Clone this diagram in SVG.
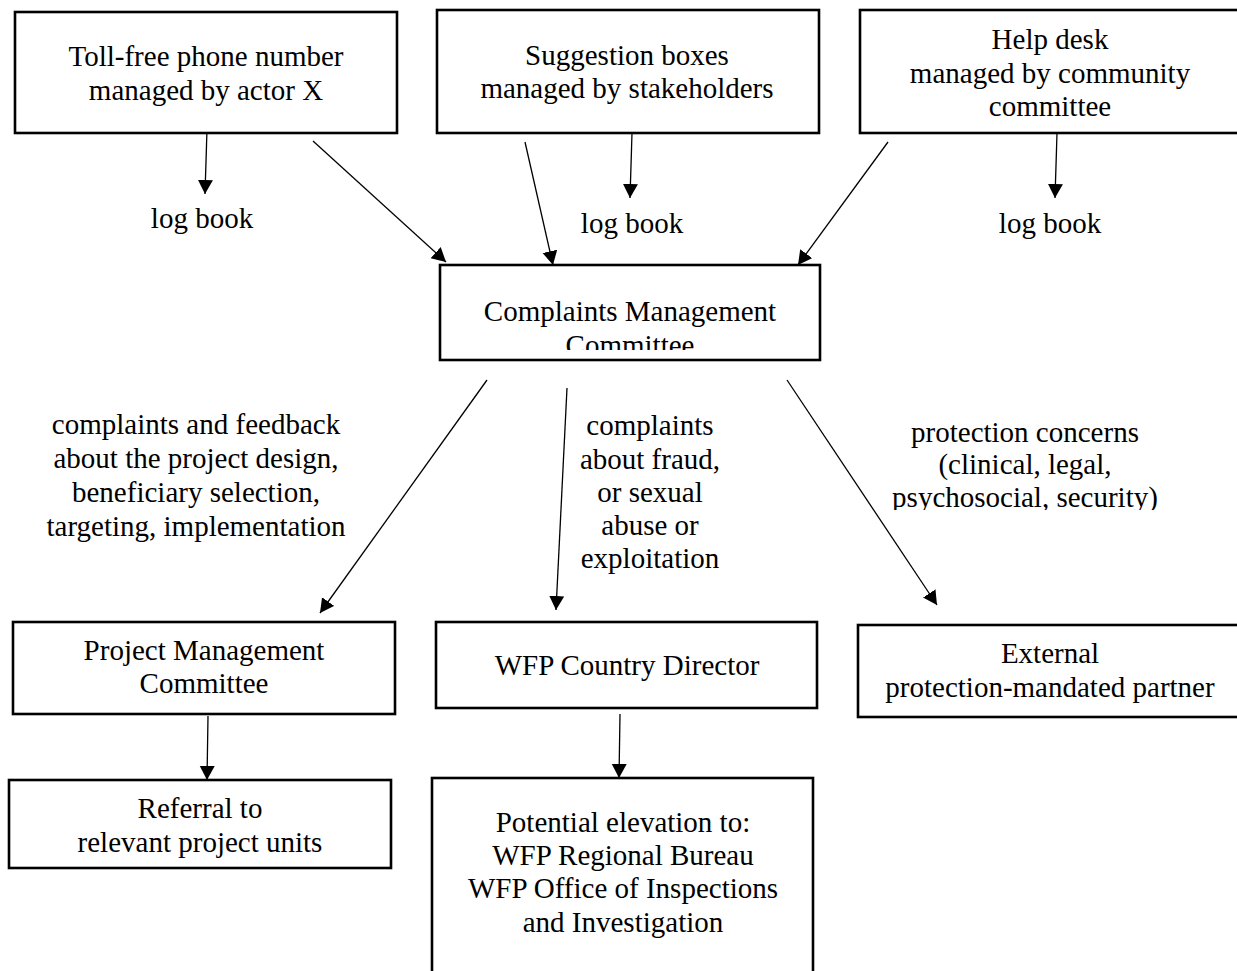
<svg xmlns="http://www.w3.org/2000/svg" width="1237" height="971" viewBox="0 0 1237 971">
<style>
.box{fill:#fff;stroke:#000;stroke-width:2.6}
.t{font-family:"Liberation Serif","Times New Roman",serif;font-size:29px;fill:#000;text-anchor:middle}
.c{stroke:#000;stroke-width:1.3;fill:none;marker-end:url(#ah)}
</style>
<defs>
<marker id="ah" markerUnits="userSpaceOnUse" markerWidth="16" markerHeight="16" refX="14" refY="7.5" orient="auto"><path d="M0,0 L14,7.5 L0,15 z" fill="#000"/></marker>
<clipPath id="clipCMC"><rect x="440" y="265" width="380" height="85"/></clipPath>
<clipPath id="clipProt"><rect x="850" y="380" width="387" height="130"/></clipPath>
</defs>
<rect width="1237" height="971" fill="#fff"/>
<g id="connectors">
<line class="c" x1="207" y1="129" x2="205" y2="194"/>
<line class="c" x1="313" y1="141" x2="446" y2="262"/>
<line class="c" x1="632" y1="133" x2="630" y2="198"/>
<line class="c" x1="525" y1="142" x2="553" y2="265"/>
<line class="c" x1="888" y1="142" x2="798" y2="265"/>
<line class="c" x1="1057" y1="133" x2="1055" y2="198"/>
<line class="c" x1="487" y1="380" x2="320" y2="613"/>
<line class="c" x1="567" y1="388" x2="556" y2="610"/>
<line class="c" x1="787" y1="380" x2="937" y2="605"/>
<line class="c" x1="208" y1="716" x2="207" y2="780"/>
<line class="c" x1="620" y1="714" x2="619" y2="778"/>
</g>
<g id="tollfree">
<rect class="box" x="15" y="12" width="382" height="121"/>
<text class="t" x="206" y="66">Toll-free phone number</text>
<text class="t" x="206" y="100">managed by actor X</text>
</g>
<g id="logbook1"><text class="t" x="202" y="228">log book</text></g>
<g id="suggestion">
<rect class="box" x="437" y="10" width="382" height="123"/>
<text class="t" x="627" y="65">Suggestion boxes</text>
<text class="t" x="627" y="98">managed by stakeholders</text>
</g>
<g id="logbook2"><text class="t" x="632" y="233">log book</text></g>
<g id="helpdesk">
<rect class="box" x="860" y="10" width="390" height="123"/>
<text class="t" x="1050" y="49">Help desk</text>
<text class="t" x="1050" y="83">managed by community</text>
<text class="t" x="1050" y="116">committee</text>
</g>
<g id="logbook3"><text class="t" x="1050" y="233">log book</text></g>
<g id="cmc">
<rect class="box" x="440" y="265" width="380" height="95"/>
<g clip-path="url(#clipCMC)">
<text class="t" x="630" y="321">Complaints Management</text>
<text class="t" x="630" y="355">Committee</text>
</g>
</g>
<g id="label-left">
<text class="t" x="196" y="434">complaints and feedback</text>
<text class="t" x="196" y="468">about the project design,</text>
<text class="t" x="196" y="502">beneficiary selection,</text>
<text class="t" x="196" y="536">targeting, implementation</text>
</g>
<g id="label-mid">
<text class="t" x="650" y="435">complaints</text>
<text class="t" x="650" y="469">about fraud,</text>
<text class="t" x="650" y="502">or sexual</text>
<text class="t" x="650" y="535">abuse or</text>
<text class="t" x="650" y="568">exploitation</text>
</g>
<g id="label-right" clip-path="url(#clipProt)">
<text class="t" x="1025" y="442">protection concerns</text>
<text class="t" x="1025" y="474">(clinical, legal,</text>
<text class="t" x="1025" y="507">psychosocial, security)</text>
</g>
<g id="pmc">
<rect class="box" x="13" y="622" width="382" height="92"/>
<text class="t" x="204" y="660">Project Management</text>
<text class="t" x="204" y="693">Committee</text>
</g>
<g id="wfpcd">
<rect class="box" x="436" y="622" width="381" height="86"/>
<text class="t" x="627" y="675">WFP Country Director</text>
</g>
<g id="external">
<rect class="box" x="858" y="625" width="390" height="92"/>
<text class="t" x="1050" y="663">External</text>
<text class="t" x="1050" y="697">protection-mandated partner</text>
</g>
<g id="referral">
<rect class="box" x="9" y="780" width="382" height="88"/>
<text class="t" x="200" y="818">Referral to</text>
<text class="t" x="200" y="852">relevant project units</text>
</g>
<g id="elevation">
<rect class="box" x="432" y="778" width="381" height="200"/>
<text class="t" x="623" y="832">Potential elevation to:</text>
<text class="t" x="623" y="865">WFP Regional Bureau</text>
<text class="t" x="623" y="898">WFP Office of Inspections</text>
<text class="t" x="623" y="932">and Investigation</text>
</g>
</svg>
